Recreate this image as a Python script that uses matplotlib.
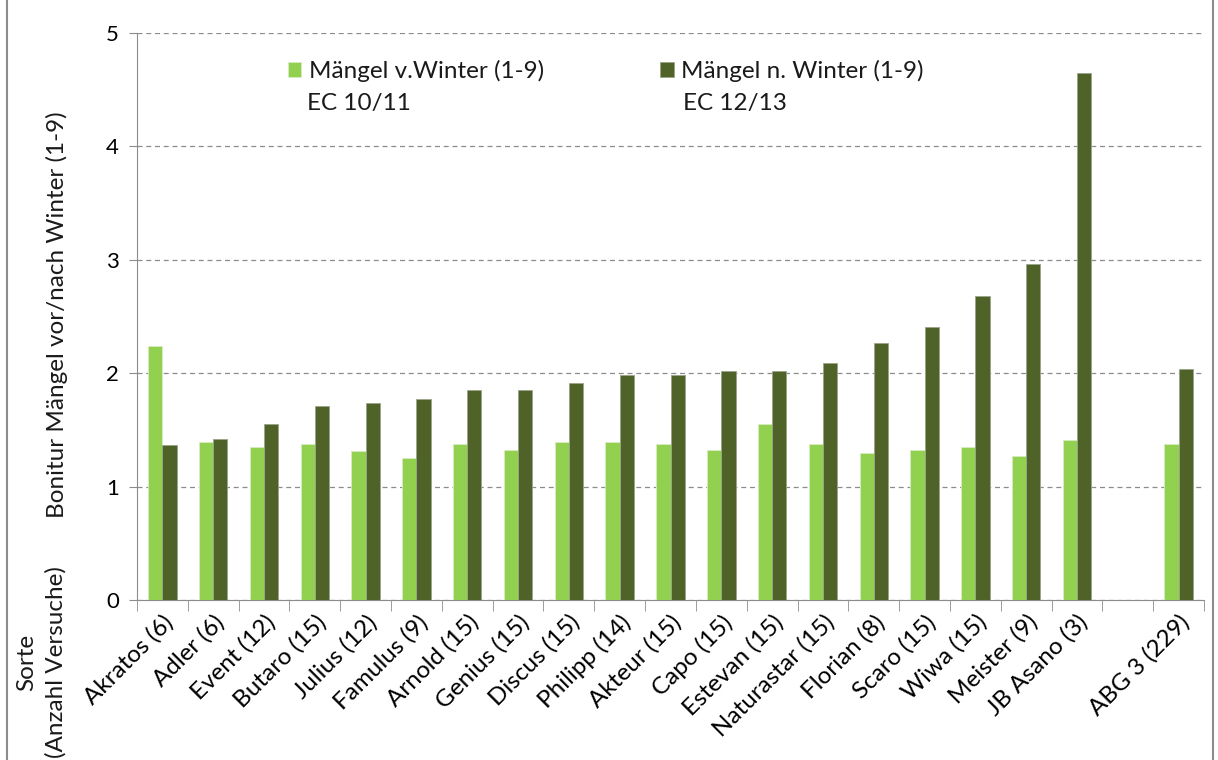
import numpy as np
import matplotlib.pyplot as plt
from matplotlib.patches import Rectangle

# Sorten (Anzahl Versuche); leerer Platz vor ABG 3
sorten = ['Akratos (6)', 'Adler (6)', 'Event (12)', 'Butaro (15)', 'Julius (12)',
          'Famulus (9)', 'Arnold (15)', 'Genius (15)', 'Discus (15)', 'Philipp (14)',
          'Akteur (15)', 'Capo (15)', 'Estevan (15)', 'Naturastar (15)', 'Florian (8)',
          'Scaro (15)', 'Wiwa (15)', 'Meister (9)', 'JB Asano (3)', '', 'ABG 3 (229)']
vor_winter = [2.24, 1.39, 1.35, 1.38, 1.31, 1.25, 1.38, 1.32, 1.39, 1.39,
              1.38, 1.32, 1.55, 1.38, 1.30, 1.32, 1.35, 1.27, 1.41, np.nan, 1.38]
nach_winter = [1.37, 1.42, 1.55, 1.71, 1.74, 1.77, 1.85, 1.85, 1.91, 1.98,
               1.98, 2.02, 2.02, 2.09, 2.27, 2.41, 2.68, 2.96, 4.65, np.nan, 2.04]

hell = '#92D050'
dunkel = '#4F6228'

plt.rcParams['font.family'] = ['Lato', 'DejaVu Sans']
plt.rcParams['text.color'] = '#1a1a1a'

fig = plt.figure(figsize=(12.18, 7.6), dpi=100)
ax = fig.add_axes([137/1218, 1-600/760, 1067/1218, 567/760])

x = np.arange(len(sorten))
w = 0.28
ax.bar(x - w/2, vor_winter, w, color=hell, edgecolor='#d8ecc0', linewidth=0.6,
       label='Mängel v.Winter (1-9)', zorder=3)
ax.bar(x + w/2, nach_winter, w, color=dunkel, edgecolor='#9aa58a', linewidth=0.6,
       label='Mängel n. Winter (1-9)', zorder=3)

ax.set_xlim(-0.5, len(sorten) - 0.5)
ax.set_ylim(0, 5)
ax.set_yticks([0, 1, 2, 3, 4, 5])
ax.yaxis.grid(True, linestyle=(0, (4, 3)), color='#8c8c8c', linewidth=0.9, zorder=0)

ax.set_xticks(x)
ax.set_xticklabels(sorten, rotation=45, ha='right', rotation_mode='anchor', fontsize=17.5)
ax.set_xticks(np.arange(-0.5, len(sorten)), minor=True)
ax.tick_params(axis='x', which='major', length=0, pad=8)
ax.tick_params(axis='x', which='minor', length=8, color='#8c8c8c', direction='out')
ax.tick_params(axis='y', length=6, color='#8c8c8c', labelsize=16, pad=7)

for s in ['top', 'right']:
    ax.spines[s].set_visible(False)
for s in ['left', 'bottom']:
    ax.spines[s].set_color('#8c8c8c')

fig.text(57/1218, 1-315/760, 'Bonitur Mängel vor/nach Winter (1-9)', rotation=90,
         ha='center', va='center', fontsize=17.5)
fig.text(41/1218, 1-662/760, 'Sorte\n(Anzahl Versuche)', rotation=90,
         ha='center', va='center', fontsize=17.5, multialignment='center', linespacing=1.45)

leg = ax.legend(ncols=2, loc='upper left', bbox_to_anchor=(0.1415, 0.952), frameon=False,
                fontsize=17.5, handlelength=0.55, handleheight=0.55, handletextpad=0.3,
                columnspacing=4.8, borderaxespad=0, borderpad=0)
ax.text(0.159, 0.8765, 'EC 10/11', transform=ax.transAxes, fontsize=17.5, va='center')
ax.text(0.512, 0.8765, 'EC 12/13', transform=ax.transAxes, fontsize=17.5, va='center')

fig.patches.append(Rectangle((7/1218, -0.02), 1206/1218, 1.04, transform=fig.transFigure,
                             fill=False, edgecolor='#8c8c8c', linewidth=1.5))

fig.savefig('out.png', dpi=100)
